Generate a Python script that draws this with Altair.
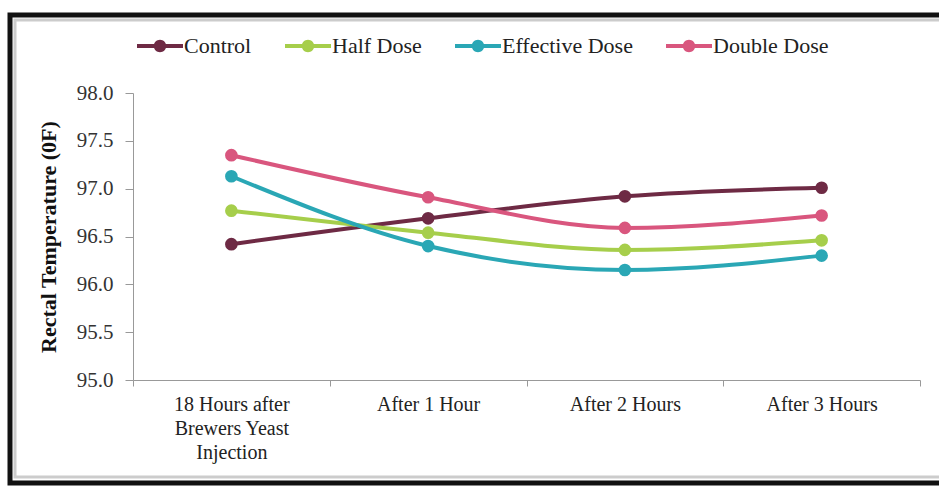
import altair as alt
import pandas as pd

categories = ["18 Hours after Brewers Yeast Injection", "After 1 Hour", "After 2 Hours", "After 3 Hours"]
series = ["Control", "Half Dose", "Effective Dose", "Double Dose"]
control = [96.42, 96.69, 96.92, 97.01]
half_dose = [96.77, 96.54, 96.36, 96.46]
effective_dose = [97.13, 96.40, 96.15, 96.30]
double_dose = [97.35, 96.91, 96.59, 96.72]
colors = ["#6E2A44", "#A6CE4B", "#2AA7B5", "#D9567E"]

rows = []
for name, vals in zip(series, [control, half_dose, effective_dose, double_dose]):
    for c, v in zip(categories, vals):
        rows.append({"Time": c, "Group": name, "Temp": v})
df = pd.DataFrame(rows)

FONT = "'Times New Roman', 'Liberation Serif', 'DejaVu Serif', serif"
legend_path = ("M -1 -0.09 L 1 -0.09 L 1 0.09 L -1 0.09 Z "
               "M -0.27 0 A 0.27 0.27 0 1 1 0.27 0 A 0.27 0.27 0 1 1 -0.27 0 Z")

color = alt.Color(
    "Group:N",
    scale=alt.Scale(domain=series, range=colors),
    legend=alt.Legend(
        title=None, orient="none", direction="horizontal",
        legendX=4, legendY=-70, padding=0,
        symbolType=legend_path, symbolSize=2116, symbolStrokeWidth=0,
        labelFont=FONT, labelFontSize=22, labelColor="#222",
        labelOffset=1, columnPadding=33,
    ),
)

x = alt.X(
    "Time:N", sort=categories, title=None,
    axis=alt.Axis(
        labelAngle=0, tickBand="extent", labelFont=FONT, labelFontSize=20,
        labelColor="#222", labelLineHeight=24, labelPadding=8, tickSize=6,
        domainColor="#999", tickColor="#999", grid=False,
        labelExpr="datum.label == '18 Hours after Brewers Yeast Injection' ? ['18 Hours after', 'Brewers Yeast', 'Injection'] : datum.label",
    ),
)
y = alt.Y(
    "Temp:Q", title="Rectal Temperature (0F)",
    scale=alt.Scale(domain=[95, 98], nice=False, zero=False),
    axis=alt.Axis(
        values=[95, 95.5, 96, 96.5, 97, 97.5, 98], format=".1f",
        labelFont=FONT, labelFontSize=21, labelColor="#333", labelPadding=12,
        titleFont=FONT, titleFontSize=22, titleFontWeight="bold", titleColor="#111",
        titlePadding=16, tickSize=8, domainColor="#999", tickColor="#999", grid=False,
    ),
)

base = alt.Chart(df)
lines = base.mark_line(interpolate="monotone", strokeWidth=4).encode(x=x, y=y, color=color)
points = base.mark_point(filled=True, size=160, opacity=1).encode(x=x, y=y, color=color)

frame_df = pd.DataFrame({"k": [0]})
frame = alt.Chart(frame_df).mark_rect(fill=None, stroke="#111", strokeWidth=5).encode(
    x=alt.value(-123), x2=alt.value(840), y=alt.value(-78), y2=alt.value(390)
)
inner = alt.Chart(frame_df).mark_rect(fill=None, stroke="#aaa", strokeWidth=3, opacity=0.6).encode(
    x=alt.value(-118), x2=alt.value(835), y=alt.value(-73), y2=alt.value(384)
)

chart = alt.layer(frame, inner, lines, points).properties(
    width=787, height=287,
    autosize=alt.AutoSizeParams(type="none"),
    padding={"left": 133, "top": 93, "right": 19, "bottom": 106},
    background="white",
).configure(font=FONT).configure_view(stroke=None).configure_axis(
    labelFont=FONT, titleFont=FONT
).configure_legend(labelFont=FONT)

chart.save("out.html", embed_options={"renderer": "svg", "actions": False})
